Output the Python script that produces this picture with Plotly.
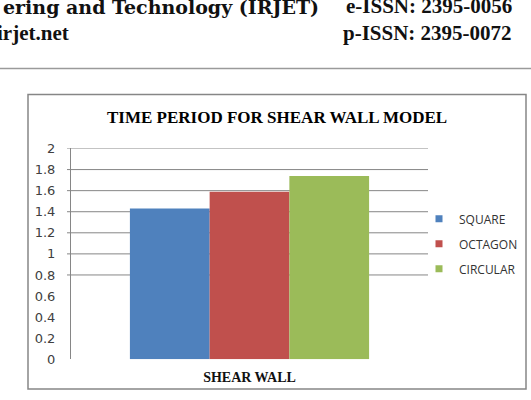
import plotly.graph_objects as go

categories = ["SHEAR WALL"]
series_names = ["SQUARE", "OCTAGON", "CIRCULAR"]
series_values = [[1.43], [1.59], [1.74]]
series_colors = ["#4F81BD", "#C0504D", "#9BBB59"]
tick_values = [0, 0.2, 0.4, 0.6, 0.8, 1, 1.2, 1.4, 1.6, 1.8, 2]
tick_labels = ["0", "0.2", "0.4", "0.6", "0.8", "1", "1.2", "1.4", "1.6", "1.8", "2"]
grid_values = [0.8, 1, 1.2, 1.4, 1.6, 1.8, 2]

W, H = 531, 400
def px(x):
    return x / W
def py(y):
    return 1 - y / H

fig = go.Figure()
for name, vals, col in zip(series_names, series_values, series_colors):
    fig.add_trace(go.Bar(x=categories, y=vals, name=name, marker=dict(color=col, line=dict(width=0)),
                         showlegend=False, hoverinfo="skip", legendgroup=name))
    fig.add_trace(go.Scatter(x=[None], y=[None], mode="markers", name=name, legendgroup=name,
                             marker=dict(symbol="square", size=7, color=col), showlegend=True))

shapes = []
shapes.append(dict(type="rect", xref="paper", yref="paper", x0=px(28), x1=px(526), y0=py(397), y1=py(91),
                   line=dict(color="#868686", width=1.5), layer="below"))
shapes.append(dict(type="line", xref="paper", yref="paper", x0=0, x1=1, y0=py(64), y1=py(64),
                   line=dict(color="#9a9a9a", width=1.5)))
for g in grid_values:
    shapes.append(dict(type="line", xref="paper", yref="y", x0=px(67), x1=px(428), y0=g, y1=g,
                       line=dict(color="#868686", width=1), layer="below"))

hdr = dict(family="Liberation Serif", size=21, color="#111")
annotations = [
    dict(text="<b>ering and Technology (IRJET)</b>", x=px(321), y=py(15), xref="paper", yref="paper",
         xanchor="right", yanchor="bottom", showarrow=False, yshift=1,
         font=dict(family="DejaVu Serif", size=19, color="#111")),
    dict(text="<b>e-ISSN: 2395-0056</b>", x=px(514), y=py(15), xref="paper", yref="paper",
         xanchor="right", yanchor="bottom", showarrow=False, yshift=1, font=hdr),
    dict(text="<b>irjet.net</b>", x=px(71), y=py(41), xref="paper", yref="paper",
         xanchor="right", yanchor="bottom", showarrow=False, yshift=-1, font=hdr),
    dict(text="<b>p-ISSN: 2395-0072</b>", x=px(514), y=py(41), xref="paper", yref="paper",
         xanchor="right", yanchor="bottom", showarrow=False, yshift=-1, font=hdr),
    dict(text="<b>TIME PERIOD FOR SHEAR WALL MODEL</b>", x=px(277), y=py(115), xref="paper", yref="paper",
         xanchor="center", yanchor="middle", showarrow=False,
         font=dict(family="Liberation Serif", size=17, color="#000")),
]

fig.update_layout(
    width=W, height=H, margin=dict(l=0, r=0, t=0, b=0),
    paper_bgcolor="white", plot_bgcolor="rgba(0,0,0,0)",
    barmode="group", bargap=0.33, bargroupgap=0,
    shapes=shapes, annotations=annotations,
    legend=dict(x=px(419), y=py(205), xanchor="left", yanchor="top", traceorder="grouped",
                tracegroupgap=6, font=dict(family="Open Sans", size=12, color="#333"),
                bgcolor="rgba(0,0,0,0)", itemwidth=30),
    xaxis=dict(domain=[px(71), px(428)], showgrid=False, showline=False, ticks="", zeroline=False,
               tickfont=dict(family="Liberation Serif", size=14, color="#111"),
               ticklabelstandoff=8, tickprefix="<b>", ticksuffix="</b>"),
    yaxis=dict(domain=[py(366), py(147)], range=[0, 2], tickvals=tick_values, ticktext=tick_labels,
               showgrid=False, zeroline=False, showline=True, linecolor="#868686", linewidth=1,
               ticks="", ticklabelstandoff=12,
               tickfont=dict(family="DejaVu Sans", size=13, color="#404040")),
)
fig.write_html("out.html")
